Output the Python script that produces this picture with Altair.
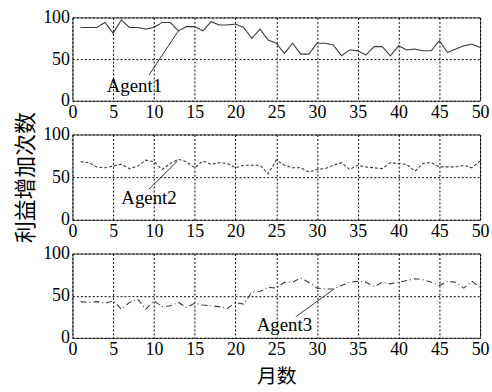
import altair as alt
import pandas as pd

months = list(range(1, 51))
agent1 = [88, 88, 88, 94, 81, 97, 88, 88, 86, 88,
          94, 94, 84, 89, 89, 84, 95, 91, 91, 92,
          88, 75, 86, 73, 69, 57, 69, 56, 56, 69,
          69, 67, 54, 61, 60, 55, 65, 65, 54, 66,
          61, 62, 60, 60, 72, 58, 62, 66, 68, 64]
agent2 = [68, 67, 62, 61, 63, 65, 60, 63, 70, 68,
          59, 66, 71, 68, 61, 69, 65, 67, 66, 61,
          64, 64, 64, 54, 70, 64, 61, 61, 56, 59,
          60, 64, 67, 59, 64, 62, 61, 60, 67, 66,
          65, 57, 66, 67, 62, 62, 62, 64, 61, 69]
agent3 = [43, 42, 43, 41, 44, 34, 42, 46, 34, 44,
          37, 38, 42, 36, 41, 39, 38, 37, 35, 42,
          40, 54, 55, 60, 59, 66, 66, 71, 66, 59,
          58, 58, 62, 66, 67, 66, 61, 66, 64, 66,
          68, 70, 69, 66, 62, 67, 66, 59, 67, 60]

names = ["Agent1", "Agent2", "Agent3"]
# annotation: label position and leader line (x, y) -> (x2, y2)
label_x = [7.6, 9.4, 26.0]
label_y = [18, 25, 15]
lead_x = [9.4, 9.4, 27.4]
lead_y = [31, 36, 25]
lead_x2 = [13.0, 12.9, 32.1]
lead_y2 = [84, 69, 58]

x_ticks = list(range(0, 51, 5))
y_ticks = [0, 50, 100]

series = [agent1, agent2, agent3]
dashes = [[1, 0], [3, 2], [6, 3, 1, 3]]
heights = [84, 86, 85]

SERIF = "Liberation Serif"


def panel(i):
    df = pd.DataFrame({"month": months, "value": series[i]})
    xaxis = alt.Axis(values=x_ticks, labelFlush=False, labelOverlap=False,
                     title="月数" if i == 2 else None)
    yaxis = alt.Axis(values=y_ticks, labelOverlap=False,
                     title="利益增加次数" if i == 1 else None)
    xs = alt.Scale(domain=[0, 50], nice=False)
    ys = alt.Scale(domain=[0, 100], nice=False)
    line = alt.Chart(df).mark_line(color="#3a3a3a", strokeWidth=1.1,
                                   strokeDash=dashes[i]).encode(
        x=alt.X("month:Q", scale=xs, axis=xaxis),
        y=alt.Y("value:Q", scale=ys, axis=yaxis),
    )
    ann = pd.DataFrame({"lx": [label_x[i]], "ly": [label_y[i]],
                        "x1": [lead_x[i]], "y1": [lead_y[i]],
                        "x2": [lead_x2[i]], "y2": [lead_y2[i]],
                        "name": [names[i]]})
    rule = alt.Chart(ann).mark_rule(color="#333", strokeWidth=1).encode(
        x="x1:Q", y="y1:Q", x2="x2:Q", y2="y2:Q")
    text = alt.Chart(ann).mark_text(font=SERIF, fontSize=19, color="black").encode(
        x="lx:Q", y="ly:Q", text="name:N")
    return alt.layer(line, rule, text).properties(width=411, height=heights[i])


chart = alt.vconcat(panel(0), panel(1), panel(2), spacing=34, bounds="flush").properties(
    padding={"left": 14, "top": 6, "right": 2, "bottom": 4}
).configure_view(
    stroke="#444", strokeWidth=1
).configure_axis(
    labelFont=SERIF, labelFontSize=18, labelColor="black", labelPadding=3,
    ticks=False, domain=False, grid=True, gridColor="black",
    gridDash=[2, 2], gridOpacity=1, gridWidth=1,
    titleFont="Noto Sans CJK SC", titleFontWeight="normal", titleColor="black",
).configure_axisY(
    titleFontSize=22, titlePadding=5,
).configure_axisX(
    titleFontSize=20, titlePadding=8,
)

chart.save("out.html", embed_options={"renderer": "svg", "actions": False})
